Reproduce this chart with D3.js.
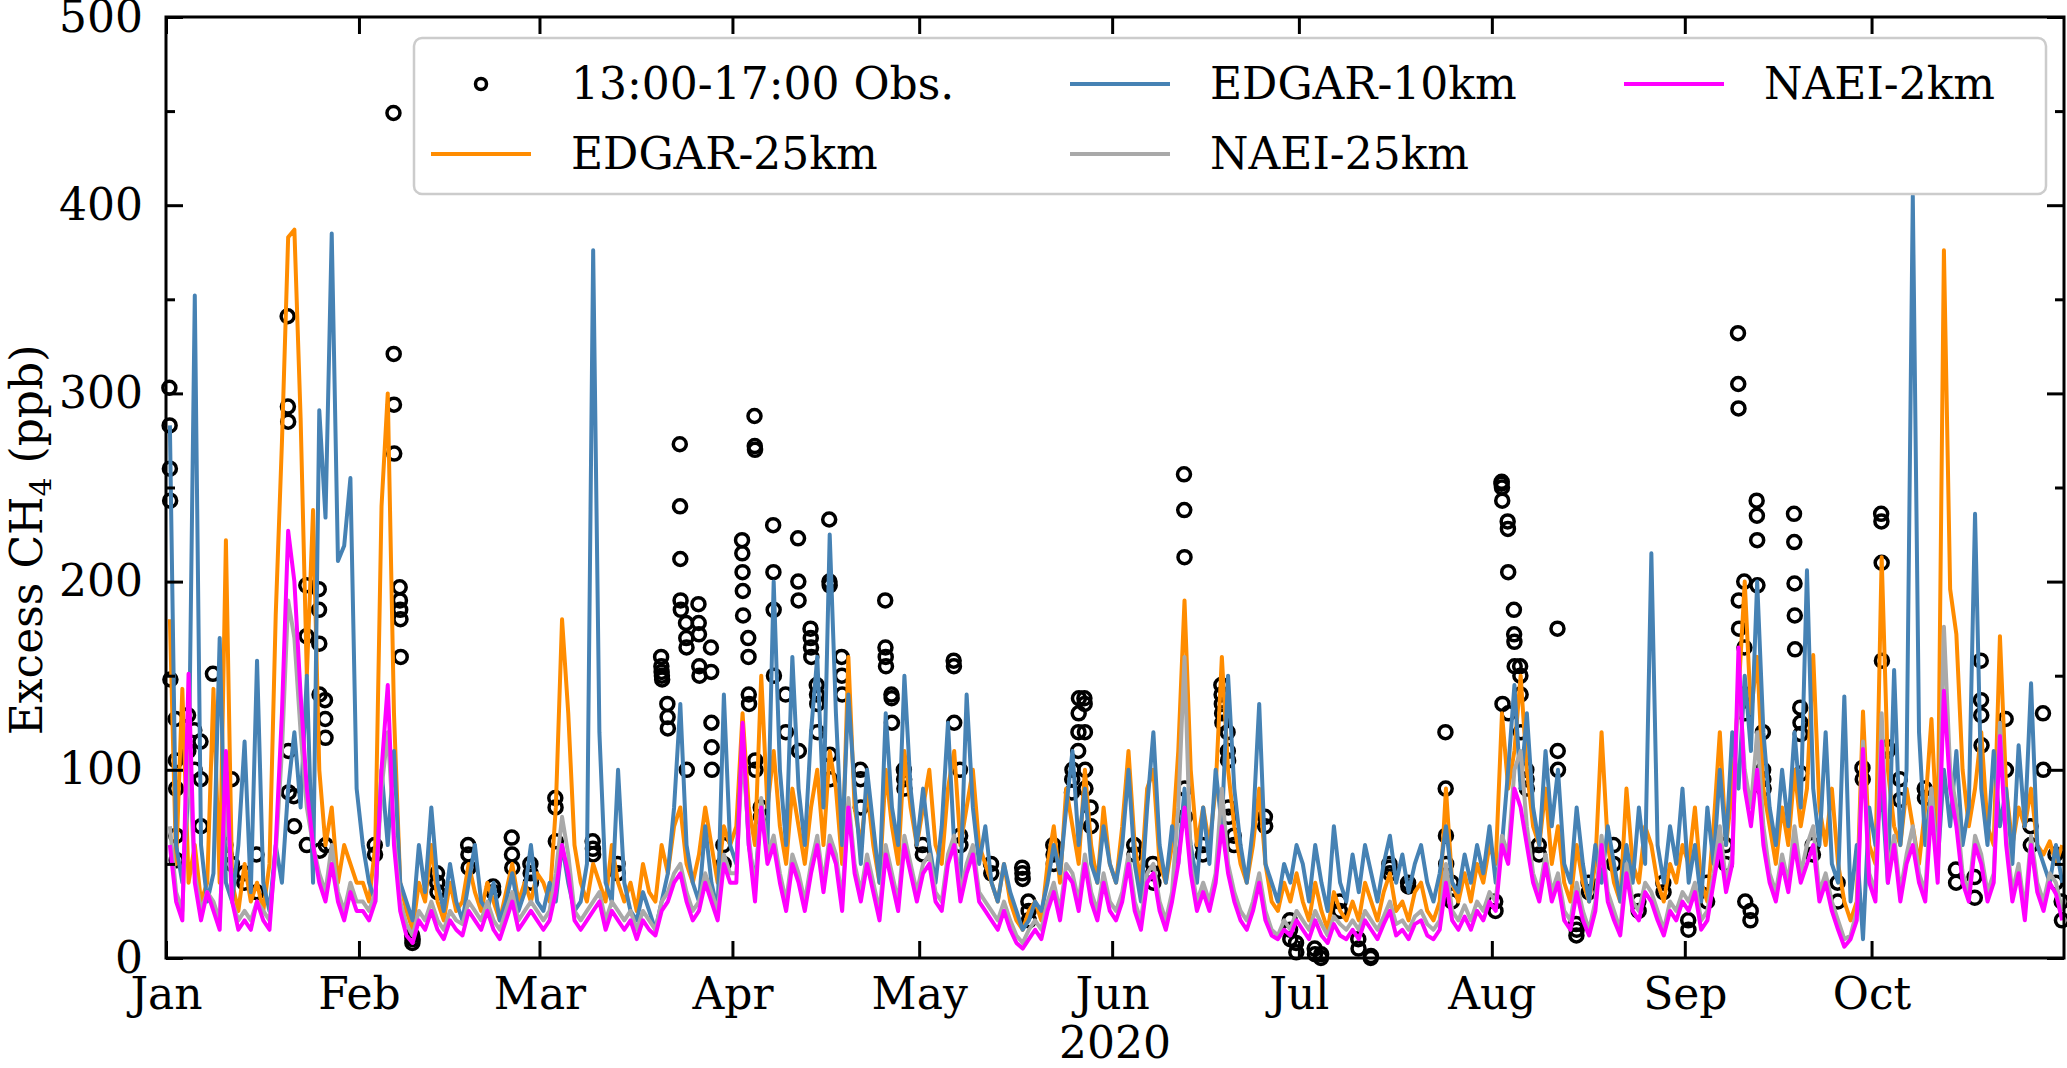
<!DOCTYPE html>
<meta charset="utf-8">
<script src="https://cdn.jsdelivr.net/npm/d3@7"></script>
<style>
	body{margin:0;background:#fff;}
	svg text{font-family:"DejaVu Serif",serif;fill:#000;}
</style>
<div id="chart"></div>
<script>
// daily afternoon model values, Jan 1 .. Oct 31 2020 (one per day)
var edgar10 = [
// Jan
283,60,40,90,352,60,30,45,170,40, 30,60,115,35,158,40,25,60,40,90, 120,80,150,40,291,234,385,211,219,255, 90,
// Feb
60,40,30,100,60,110,40,30,20,60, 35,80,40,25,50,30,20,40,60,30, 25,40,20,30,45,25,35,60,30,
// Mar
25,40,30,60,40,25,30,50,376,120, 40,30,100,40,25,20,35,25,15,30, 45,80,135,60,40,30,70,40,25,140, 60,
// Apr
50,120,60,40,80,60,200,100,60,160, 90,60,120,160,80,225,130,60,140,90, 50,100,70,40,130,80,60,150,90,60,
// May
90,60,40,70,125,60,40,140,80,50, 70,40,30,50,35,25,15,20,30,25, 40,60,45,80,110,60,90,50,40,70, 50,
// Jun
40,60,100,50,30,80,120,60,40,70, 50,90,60,40,80,50,100,70,150,90, 60,40,70,135,50,40,30,50,40,60,
// Jul
50,30,60,40,25,70,40,30,55,35, 60,45,30,50,65,40,55,35,50,60, 40,30,45,70,40,35,55,40,60,45, 70,
// Aug
40,60,100,145,90,130,80,60,110,70, 100,50,40,80,50,30,60,40,70,50, 30,60,40,80,50,215,60,40,70,50, 90,
// Sep
40,60,30,80,50,100,60,120,90,150, 110,200,120,80,60,100,70,120,80,206, 90,60,120,50,40,139,30,60,10,80,
// Oct
60,90,40,153,60,100,405,120,60,90, 50,100,70,110,60,80,236,90,60,110, 70,90,50,113,70,146,60,50,40,60, 40
]
var edgar25 = [
180,50,143,40,60,30,40,143,40,222, 40,25,50,30,40,25,50,182,274,383, 387,287,150,238,100,60,80,40,60,50, 40,
40,30,60,240,300,130,40,25,15,40, 30,60,30,20,40,25,30,50,35,25, 40,30,20,35,50,30,40,30,45,
40,30,80,180,130,60,40,30,50,40, 30,60,40,30,40,25,50,35,30,60, 45,70,80,50,40,55,80,60,40,70, 60,
70,130,80,60,150,80,110,70,50,90, 70,50,80,100,60,110,90,50,160,80, 60,90,60,40,100,70,50,110,80,60,
80,100,60,50,90,110,60,80,100,60, 50,40,30,50,30,20,15,25,30,20, 50,70,40,90,70,50,100,60,40,80, 50,
40,70,110,60,40,90,100,50,40,60, 110,190,100,60,80,60,90,160,100,70, 50,40,60,90,50,30,25,40,30,45,
30,20,40,25,15,35,25,20,30,20, 40,30,20,35,45,25,30,20,35,40, 25,20,30,90,40,30,45,30,50,40, 60,
50,130,90,110,150,100,70,60,90,50, 70,40,30,60,40,30,50,120,60,40, 30,90,50,40,70,60,40,30,50,40, 60,
50,80,40,30,70,120,60,90,140,200, 130,160,90,70,50,80,60,100,70,90, 161,80,60,90,50,30,20,30,131,60,
50,213,100,70,60,90,70,50,80,127, 60,376,196,172,100,70,90,120,70,60, 171,90,60,80,70,90,60,55,62,50, 60
]
var naei25 = [
70,35,25,110,45,25,35,30,20,90, 30,20,25,20,30,25,20,55,110,190, 170,120,80,60,45,35,60,35,25,40, 30,
30,25,35,90,120,65,30,18,12,25, 20,30,20,15,25,20,18,30,25,20, 30,20,15,25,35,20,25,30,25,
20,25,45,75,55,25,20,25,30,35, 20,30,25,20,25,15,25,20,15,30, 35,45,50,35,25,30,45,35,25,55, 45,
45,110,65,35,85,55,65,45,30,55, 45,30,50,65,40,65,55,30,85,50, 35,55,40,25,60,45,30,65,50,35,
50,55,35,30,55,65,35,50,60,35, 30,25,20,30,20,12,8,15,20,15, 30,40,25,50,45,30,55,35,25,45, 30,
25,35,55,30,20,45,50,30,20,35, 80,160,50,30,40,30,45,90,50,35, 25,20,30,45,25,15,12,20,15,25,
20,15,25,18,12,22,18,15,20,15, 25,20,15,22,30,18,20,15,22,25, 18,15,20,50,25,20,28,20,30,25, 35,
30,65,55,100,110,70,45,35,55,35, 45,25,20,40,25,15,30,65,35,25, 15,50,30,25,40,35,25,15,30,25, 35,
30,40,20,25,45,70,40,55,150,100, 80,120,70,45,35,55,40,70,45,60, 70,35,45,30,20,10,12,25,115,45,
35,130,45,65,35,55,70,45,35,90, 45,176,100,80,45,35,65,55,35,45, 125,65,35,50,25,65,40,30,45,40, 25
]
var naei2 = [
60,30,20,151,40,20,35,25,15,110, 30,15,20,15,30,20,15,60,130,227, 200,140,90,60,40,30,50,30,20,35, 25,
25,20,30,100,145,60,25,12,8,20, 15,25,15,10,20,15,12,25,20,15, 25,15,10,20,30,15,20,25,20,
15,20,35,60,45,20,15,20,25,30, 15,25,20,15,20,10,20,15,12,25, 30,40,45,30,20,25,40,30,20,50, 40,
40,125,60,30,80,50,60,40,25,50, 40,25,45,60,35,60,50,25,80,45, 30,50,35,20,55,40,25,60,45,30,
45,50,30,25,50,60,30,45,55,30, 25,20,15,25,15,8,5,10,15,10, 25,35,20,45,40,25,50,30,20,40, 25,
20,30,50,25,15,40,45,25,15,30, 50,80,45,25,35,25,40,70,45,30, 20,15,25,40,20,12,10,15,12,20,
15,10,20,12,8,18,12,10,15,10, 20,15,10,18,25,12,15,10,18,20, 12,10,15,40,20,15,22,15,25,20, 30,
25,60,50,90,80,60,40,30,50,30, 40,20,15,35,20,12,25,60,30,20, 12,45,25,20,35,30,20,12,25,20, 30,
25,35,15,20,40,60,35,50,165,90, 70,100,60,40,30,50,35,60,40,50, 60,30,40,25,15,6,10,20,111,40,
30,115,40,60,30,50,60,40,30,80, 40,142,90,70,40,30,60,50,30,40, 118,60,30,45,20,60,35,25,40,34, 20
]

// observations: day index from Jan 1, and the hourly values 13:00-17:00 of that day
var obsDay = [0,1,3,4,5,7,9,10,12,14,19,20,22,24,25,
	33,36,37,39,43,48,52,55,58,
	62,68,72,79,80,82,83,85,87,89,
	92,93,94,95,97,99,101,103,104,106,108,111,115,116,118,
	121,126,127,132,137,138,142,145,146,147,148,
	155,158,163,166,169,170,171,176,
	180,181,184,185,188,191,193,196,199,205,206,
	213,214,215,216,217,218,220,223,226,228,232,236,240,
	244,247,250,252,253,254,255,256,261,262,264,268,272,
	275,276,278,282,287,290,291,295,299,301,303,304]
var obsPpb = [[303,283,260,243,148],[127,105,90,65,52],[129,110],[121,100],[115,95,70],[151],[60,55],[95,50],[45,40],[55,35],[341,293,285,110,88],[86,70],[198,171,60],[196,185,167,140,57],[137,127,117,60],
	[60,55],[449,321,294,268],[197,190,185,180,160],[12,8,10],[45,40,35],[60,55,48],[38,35],[64,55,48],[50,45,40],
	[85,80,62],[62,58,55],[50,45],[160,155,152,150,148],[135,128,122],[273,240,212,190,185],[178,170,165,100],[188,178,172,155,150],[165,152,125,112,100],[60,50],
	[222,215,205,195,182],[170,160,140,135],[288,272,270,105,100],[80,75],[230,205,185,150],[140,120],[223,200,190,110],[175,170,165,160],[145,140,135,120],[233,200,198,108,95],[160,150,140],[100,95,80],[190,165,160,155],[140,138,125],[100,95,90],
	[60,55],[158,155,125],[100,65,60],[50,45],[48,45,42],[30,25,20],[60,55,50],[88,95,100],[110,120,130,138],[138,135,120,100,90],[80,70],
	[60,55],[50,45,40],[257,238,213,90,75],[60,55],[145,140,135,130,125],[120,110,105,80,75],[65,60],[75,70],
	[20,15,10],[8,3],[5,2],[0,2],[30,25],[10,5],[0,1],[50,48,45],[40,38],[120,90,65,50],[40,30],
	[30,25],[252,253,250,243,135],[232,228,205,130],[185,172,168,155],[155,150,140,120],[100,95,90],[60,55],[175,110,100],[18,12,15],[40,35],[60,50],[30,25],[40,35],
	[20,15],[40,30],[60,50],[332,305,292,190,175],[200,165,140,130,30],[20,25],[243,235,222,198],[120,100,95,90],[236,221,199,182,164],[133,125,119,98],[60,55],[40,30],[101,95],
	[236,232,210,158],[112,110],[95,84],[90,85],[47,40],[43,32],[158,137,129,113],[127,100],[70,60],[130,100],[55,40],[30,20]]

var yTicks = [0,100,200,300,400,500]
var yMinor = [50,150,250,350,450]
var legendNames = ["13:00-17:00 Obs.","EDGAR-25km","EDGAR-10km","NAEI-25km","NAEI-2km"]

var width = 2067
var height = 1068
// plot box ("top" is a reserved window name, so prefixed)
var pL = 166, pR = 2064, pT = 17, pB = 958
var fs = 44

var svg = d3.select("#chart").append("svg")
	.attr("width",width)
	.attr("height",height)

var x = d3.scaleTime()
	.domain([new Date(2020,0,1), new Date(2020,9,31,22)])
	.range([pL,pR])
var y = d3.scaleLinear().domain([0,500]).range([pB,pT])

function dayDate(i,h){ return new Date(2020,0,1+i,h) }

// obs circles
var obsPts = []
obsDay.forEach(function(d,i){
	obsPpb[i].forEach(function(v,j){ obsPts.push([dayDate(d,13+j),v]) })
})
var plot = svg.append("g")
plot.append("g").selectAll("circle")
	.data(obsPts).enter().append("circle")
	.attr("cx",function(d){return x(d[0])})
	.attr("cy",function(d){return y(d[1])})
	.attr("r",6.5)
	.attr("fill","none")
	.attr("stroke","#000")
	.attr("stroke-width",3.5)

var series = [
	{vals:edgar25,color:"#ff8c00"},
	{vals:edgar10,color:"#4682b4"},
	{vals:naei25,color:"#a9a9a9"},
	{vals:naei2,color:"#ff00ff"}
]
var line = d3.line()
	.x(function(d,i){return x(dayDate(i,15))})
	.y(function(d){return y(d)})
series.forEach(function(s){
	plot.append("path")
		.datum(s.vals)
		.attr("d",line)
		.attr("fill","none")
		.attr("stroke",s.color)
		.attr("stroke-width",4)
		.attr("stroke-linejoin","round")
})

// axes, ticks pointing in on all sides
function styleAxis(g){
	g.select(".domain").remove()
	g.selectAll(".tick line").attr("stroke","#000").attr("stroke-width",3)
	g.selectAll("text").style("font-size",fs+"px").style("font-family","DejaVu Serif")
}
var months = d3.timeMonth.range(new Date(2020,0,1), new Date(2020,10,1))
svg.append("g").attr("transform","translate(0,"+pB+")")
	.call(d3.axisBottom(x).tickValues(months).tickFormat(d3.timeFormat("%b")).tickSize(-17).tickSizeOuter(0).tickPadding(20))
	.call(styleAxis)
svg.append("g").attr("transform","translate(0,"+pT+")")
	.call(d3.axisTop(x).tickValues(months).tickFormat("").tickSize(-17).tickSizeOuter(0))
	.call(styleAxis)
svg.append("g").attr("transform","translate("+pL+",0)")
	.call(d3.axisLeft(y).tickValues(yTicks).tickSize(-17).tickSizeOuter(0).tickPadding(23))
	.call(styleAxis)
svg.append("g").attr("transform","translate("+pL+",0)")
	.call(d3.axisLeft(y).tickValues(yMinor).tickFormat("").tickSize(-9).tickSizeOuter(0))
	.call(styleAxis)
svg.append("g").attr("transform","translate("+pR+",0)")
	.call(d3.axisRight(y).tickValues(yTicks).tickFormat("").tickSize(-17).tickSizeOuter(0))
	.call(styleAxis)
svg.append("g").attr("transform","translate("+pR+",0)")
	.call(d3.axisRight(y).tickValues(yMinor).tickFormat("").tickSize(-9).tickSizeOuter(0))
	.call(styleAxis)

svg.append("rect")
	.attr("x",pL).attr("y",pT)
	.attr("width",pR-pL).attr("height",pB-pT)
	.attr("fill","none").attr("stroke","#000").attr("stroke-width",3)

// axis labels
svg.append("text")
	.attr("x",(pL+pR)/2).attr("y",1058)
	.attr("text-anchor","middle")
	.style("font-size",fs+"px")
	.text("2020")
var yl = svg.append("text")
	.attr("transform","translate(42,540) rotate(-90)")
	.attr("text-anchor","middle")
	.style("font-size",fs+"px")
yl.append("tspan").text("Excess CH")
yl.append("tspan").attr("dy",9).style("font-size","30px").text("4")
yl.append("tspan").attr("dy",-9).text(" (ppb)")

// legend
var lg = svg.append("g")
lg.append("rect")
	.attr("x",414).attr("y",38).attr("width",1632).attr("height",156)
	.attr("rx",8)
	.attr("fill","#fff").attr("fill-opacity",0.8)
	.attr("stroke","#cccccc").attr("stroke-width",2.5)
var slots = [[431,84],[431,154],[1070,84],[1070,154],[1624,84]]
var lcolors = [null,"#ff8c00","#4682b4","#a9a9a9","#ff00ff"]
legendNames.forEach(function(name,i){
	var sx = slots[i][0], sy = slots[i][1]
	if(i==0){
		lg.append("circle").attr("cx",sx+50).attr("cy",sy)
			.attr("r",5.5).attr("fill","none").attr("stroke","#000").attr("stroke-width",3.5)
	}else{
		lg.append("line").attr("x1",sx).attr("x2",sx+100)
			.attr("y1",sy).attr("y2",sy)
			.attr("stroke",lcolors[i]).attr("stroke-width",4)
	}
	lg.append("text").attr("x",sx+140).attr("y",sy+15)
		.style("font-size",fs+"px")
		.text(name)
})
</script>
